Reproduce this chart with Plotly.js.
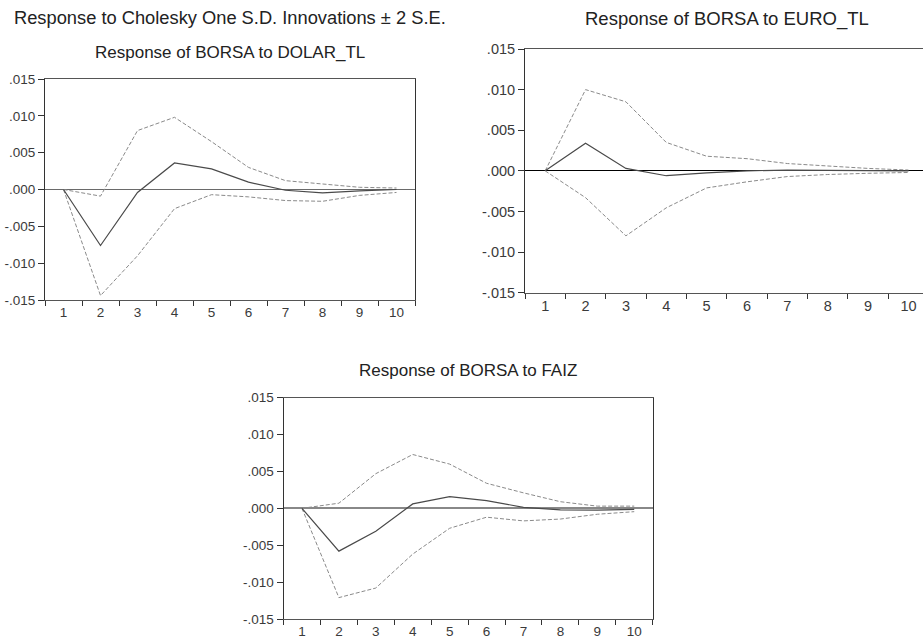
<!DOCTYPE html>
<html>
<head>
<meta charset="utf-8">
<script src="https://cdn.plot.ly/plotly-3.0.1.min.js"></script>
<style>html,body{margin:0;padding:0;background:#fff;}#chart{width:923px;height:640px;}</style>
</head>
<body>
<div id="chart"></div>
<script>
const periods = ['1','2','3','4','5','6','7','8','9','10'];

const dolarResp  = [0, -0.0076, -0.0004, 0.0036, 0.0028, 0.0010, -0.0001, -0.00045, -0.0002, 0.0000];
const dolarUpper = [0, -0.0009, 0.0080, 0.0098, 0.0065, 0.0030, 0.0012, 0.0008, 0.0003, 0.0002];
const dolarLower = [0, -0.0144, -0.0090, -0.0026, -0.0007, -0.0010, -0.0015, -0.0016, -0.0008, -0.0004];

const euroResp  = [0, 0.0034, 0.0003, -0.0006, -0.00025, 0.0000, 0.0001, 0.00008, 0.0000, 0.0000];
const euroUpper = [0, 0.0100, 0.0085, 0.0035, 0.0018, 0.0015, 0.0009, 0.0006, 0.0003, 0.0001];
const euroLower = [0, -0.0033, -0.0080, -0.00455, -0.0021, -0.00135, -0.0007, -0.00045, -0.0003, -0.0002];

const faizResp  = [0, -0.0058, -0.0031, 0.0006, 0.0016, 0.00105, 0.00014, -0.0002, -0.00023, -0.00014];
const faizUpper = [0, 0.0007, 0.0047, 0.0073, 0.0060, 0.0034, 0.0021, 0.0009, 0.0003, 0.0003];
const faizLower = [0, -0.0121, -0.0108, -0.0062, -0.0027, -0.0012, -0.0017, -0.00145, -0.0008, -0.00045];

const yTickVals = [-0.015, -0.010, -0.005, 0, 0.005, 0.010, 0.015];
const yTickText = ['-.015', '-.010', '-.005', '.000', '.005', '.010', '.015'];

const mainTitle = 'Response to Cholesky One S.D. Innovations \u00b1 2 S.E.';
const panelTitles = ['Response of BORSA to DOLAR_TL', 'Response of BORSA to EURO_TL', 'Response of BORSA to FAIZ'];

const FONT = 'Liberation Sans, Arial, sans-serif';
const W = 923, H = 640;
const px = v => v / W;
const py = v => 1 - v / H;

function panelTraces(resp, up, lo, xa, ya) {
  return [
    {x: periods, y: up, xaxis: xa, yaxis: ya, type: 'scatter', mode: 'lines',
     line: {color: '#8a8a8a', width: 1, dash: '4px,2px'}, hoverinfo: 'skip'},
    {x: periods, y: lo, xaxis: xa, yaxis: ya, type: 'scatter', mode: 'lines',
     line: {color: '#8a8a8a', width: 1, dash: '4px,2px'}, hoverinfo: 'skip'},
    {x: periods, y: resp, xaxis: xa, yaxis: ya, type: 'scatter', mode: 'lines',
     line: {color: '#4a4a4a', width: 1.2}, hoverinfo: 'skip'}
  ];
}

const data = [].concat(
  panelTraces(dolarResp, dolarUpper, dolarLower, 'x', 'y'),
  panelTraces(euroResp, euroUpper, euroLower, 'x2', 'y2'),
  panelTraces(faizResp, faizUpper, faizLower, 'x3', 'y3')
);

function xAxis(domain, range, anchor, fs) {
  return {
    type: 'category', domain: domain, range: range, anchor: anchor,
    tickson: 'boundaries', ticks: 'outside', ticklen: 5, tickwidth: 1, tickcolor: '#333',
    showgrid: false, zeroline: false, showline: true, linecolor: '#555', linewidth: 1, mirror: true,
    tickfont: {family: FONT, size: fs, color: '#3a3a3a'}, fixedrange: true
  };
}
function yAxis(domain, anchor, fs, zc, zw, mirror) {
  return {
    domain: domain, range: [-0.015, 0.015], anchor: anchor,
    tickvals: yTickVals, ticktext: yTickText,
    ticks: 'outside', ticklen: 6, tickwidth: 1, tickcolor: '#333',
    showgrid: false, zeroline: true, zerolinecolor: zc, zerolinewidth: zw,
    showline: true, linecolor: '#333', linewidth: 1, mirror: mirror,
    tickfont: {family: FONT, size: fs, color: '#3a3a3a'}, fixedrange: true
  };
}

const layout = {
  width: W, height: H,
  margin: {l: 0, r: 0, t: 0, b: 0},
  paper_bgcolor: '#fff', plot_bgcolor: '#fff',
  showlegend: false,
  xaxis:  xAxis([px(45), px(415)], [-0.5, 9.5], 'y', 13.5),
  yaxis:  yAxis([py(300), py(79)], 'x', 13.5, '#6a6a6a', 1.5, true),
  xaxis2: xAxis([px(525), 1], [-0.5, 9.36], 'y2', 14.5),
  yaxis2: yAxis([py(292.7), py(49)], 'x2', 14.5, '#000', 1, false),
  xaxis3: xAxis([px(283.5), px(652.7)], [-0.5, 9.5], 'y3', 13.5),
  yaxis3: yAxis([py(619), py(397.7)], 'x3', 13.5, '#888', 2, true),
  annotations: [
    {text: mainTitle, xref: 'paper', yref: 'paper', x: px(12), y: py(18), xanchor: 'left', yanchor: 'middle',
     showarrow: false, font: {family: FONT, size: 18.3, color: '#222'}},
    {text: panelTitles[0], xref: 'paper', yref: 'paper', x: px(230), y: py(52), xanchor: 'center', yanchor: 'middle',
     showarrow: false, font: {family: FONT, size: 17, color: '#222'}},
    {text: panelTitles[1], xref: 'paper', yref: 'paper', x: px(727), y: py(19), xanchor: 'center', yanchor: 'middle',
     showarrow: false, font: {family: FONT, size: 18.5, color: '#222'}},
    {text: panelTitles[2], xref: 'paper', yref: 'paper', x: px(468), y: py(370), xanchor: 'center', yanchor: 'middle',
     showarrow: false, font: {family: FONT, size: 17, color: '#222'}}
  ]
};

Plotly.newPlot('chart', data, layout, {staticPlot: true, displayModeBar: false});
</script>
</body>
</html>
